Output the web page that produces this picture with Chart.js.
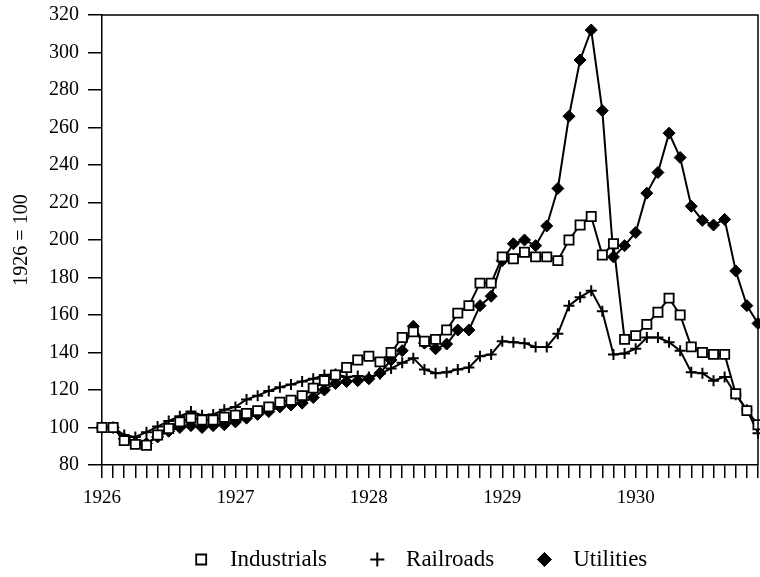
<!DOCTYPE html>
<html>
<head>
<meta charset="utf-8">
<script src="https://cdn.jsdelivr.net/npm/chart.js@4.4.1/dist/chart.umd.min.js"></script>
<style>
html, body { margin: 0; padding: 0; background: #fff; }
</style>
</head>
<body>
<canvas id="stockChart" width="760" height="577"></canvas>
<script>
const years = ['1926', '1927', '1928', '1929', '1930'];
const monthNames = ['Jan', 'Feb', 'Mar', 'Apr', 'May', 'Jun', 'Jul', 'Aug', 'Sep', 'Oct', 'Nov', 'Dec'];
const months = [];
years.forEach(y => monthNames.forEach(m => months.push(m + ' ' + y)));

// monthly index, 1926 = 100
const industrials = [100, 100, 93, 91, 90.5, 96, 99.5, 103, 105, 104, 104, 105.5,
    106.5, 107.5, 109, 111, 113.5, 114.5, 117, 121, 125, 128, 132, 136,
    138, 135, 140, 148, 151, 146, 147, 152, 161, 165, 177, 177,
    191, 190, 193.5, 191, 191, 189, 200, 208, 212.5, 192, 198, 147,
    149, 155, 161.5, 169, 160, 143, 140, 139, 139, 118, 109, 101.5];
const railroads = [100, 100, 96, 95, 97.5, 100.5, 103.5, 106, 108.5, 106.5, 107, 109.5,
    111, 115, 117, 119.5, 121.5, 123, 124.5, 126, 128, 128.5, 127, 127.5,
    127, 128.5, 131.5, 134.5, 137, 131, 129, 129.5, 131, 132, 138, 139,
    146, 145.5, 145, 143, 143, 150, 165, 169.5, 173, 162, 139, 139.5,
    142, 148, 148, 145.5, 141, 129.5, 129, 125, 127, 117.5, 109.5, 97];
const utilities = [100, 100, 94, 92, 91.5, 95, 98, 100, 101, 100, 101, 101.5,
    103, 105, 107, 108.5, 111, 112, 113, 116, 120, 123.5, 124.5, 125,
    126, 129, 136, 141, 154, 145, 142, 144.5, 152, 152, 165, 170,
    189, 198, 200, 197, 207.5, 227.5, 266, 296, 312, 269, 191, 197,
    204, 225, 236, 257, 244, 218, 210.5, 208, 211, 183.5, 165, 155.5];

// spaces round each legend entry, to spread them like the original
const legendGaps = ['     ', '     ', '    '];

Chart.defaults.font.family = "'Liberation Serif', 'Times New Roman', serif";
Chart.defaults.color = '#000';

const frame = {
    id: 'frame',
    afterDatasetsDraw(chart) {
        const { ctx, chartArea: a } = chart;
        ctx.save();
        ctx.strokeStyle = '#000';
        ctx.lineWidth = 1.5;
        ctx.beginPath();
        ctx.moveTo(a.left, a.top);
        ctx.lineTo(a.right, a.top);
        ctx.lineTo(a.right, a.bottom);
        ctx.stroke();
        ctx.restore();
    }
};

const stockChart = new Chart(document.getElementById('stockChart'), {
    type: 'line',
    data: {
        labels: months,
        datasets: [{
            label: 'Industrials',
            data: industrials,
            borderColor: '#000',
            borderWidth: 2,
            pointStyle: 'rect',
            pointRadius: 6.5,
            pointBorderWidth: 1.8,
            pointBackgroundColor: '#fff',
            pointBorderColor: '#000',
            clip: false
        }, {
            label: 'Railroads',
            data: railroads,
            borderColor: '#000',
            borderWidth: 2,
            pointStyle: 'cross',
            pointRadius: 5.5,
            pointBorderWidth: 2,
            pointBackgroundColor: '#000',
            pointBorderColor: '#000',
            clip: false
        }, {
            label: 'Utilities',
            data: utilities,
            borderColor: '#000',
            borderWidth: 2,
            pointStyle: 'rectRot',
            pointRadius: 6,
            pointBorderWidth: 1,
            pointBackgroundColor: '#000',
            pointBorderColor: '#000',
            clip: false
        }]
    },
    options: {
        responsive: false,
        animation: false,
        devicePixelRatio: 1,
        layout: { autoPadding: false, padding: { top: 15, right: 2, bottom: -4, left: 0 } },
        plugins: {
            tooltip: { enabled: false },
            legend: {
                position: 'bottom',
                fullSize: false,
                labels: {
                    usePointStyle: true,
                    boxWidth: 23,
                    boxHeight: 10,
                    padding: 10,
                    color: '#000',
                    font: { size: 23 },
                    generateLabels: chart => Chart.defaults.plugins.legend.labels.generateLabels(chart)
                        .map((item, i) => ({ ...item, text: ' ' + item.text + legendGaps[i] }))
                }
            }
        },
        scales: {
            x: {
                offset: false,
                border: { color: '#000', width: 1.5 },
                grid: { drawOnChartArea: false, drawTicks: true, tickLength: 13, color: '#000', lineWidth: 1.5 },
                ticks: {
                    autoSkip: false,
                    maxRotation: 0,
                    padding: 9,
                    color: '#000',
                    font: { size: 19 },
                    callback: (v, i) => i % 12 === 0 ? years[i / 12] : ''
                },
                afterFit: s => { s.height = 73; s.paddingLeft = 0; s.paddingRight = 0; }
            },
            y: {
                min: 80,
                max: 320,
                border: { color: '#000', width: 1.5 },
                grid: { drawOnChartArea: false, tickLength: 14, color: '#000', lineWidth: 1.5 },
                ticks: { stepSize: 20, padding: 9, color: '#000', font: { size: 20 } },
                title: { display: true, text: '1926 = 100', color: '#000', font: { size: 20 }, padding: { top: 10, bottom: 0 } },
                afterFit: s => { s.width = 102; s.paddingTop = 0; s.paddingBottom = 0; }
            }
        }
    },
    plugins: [frame]
});
</script>
</body>
</html>
